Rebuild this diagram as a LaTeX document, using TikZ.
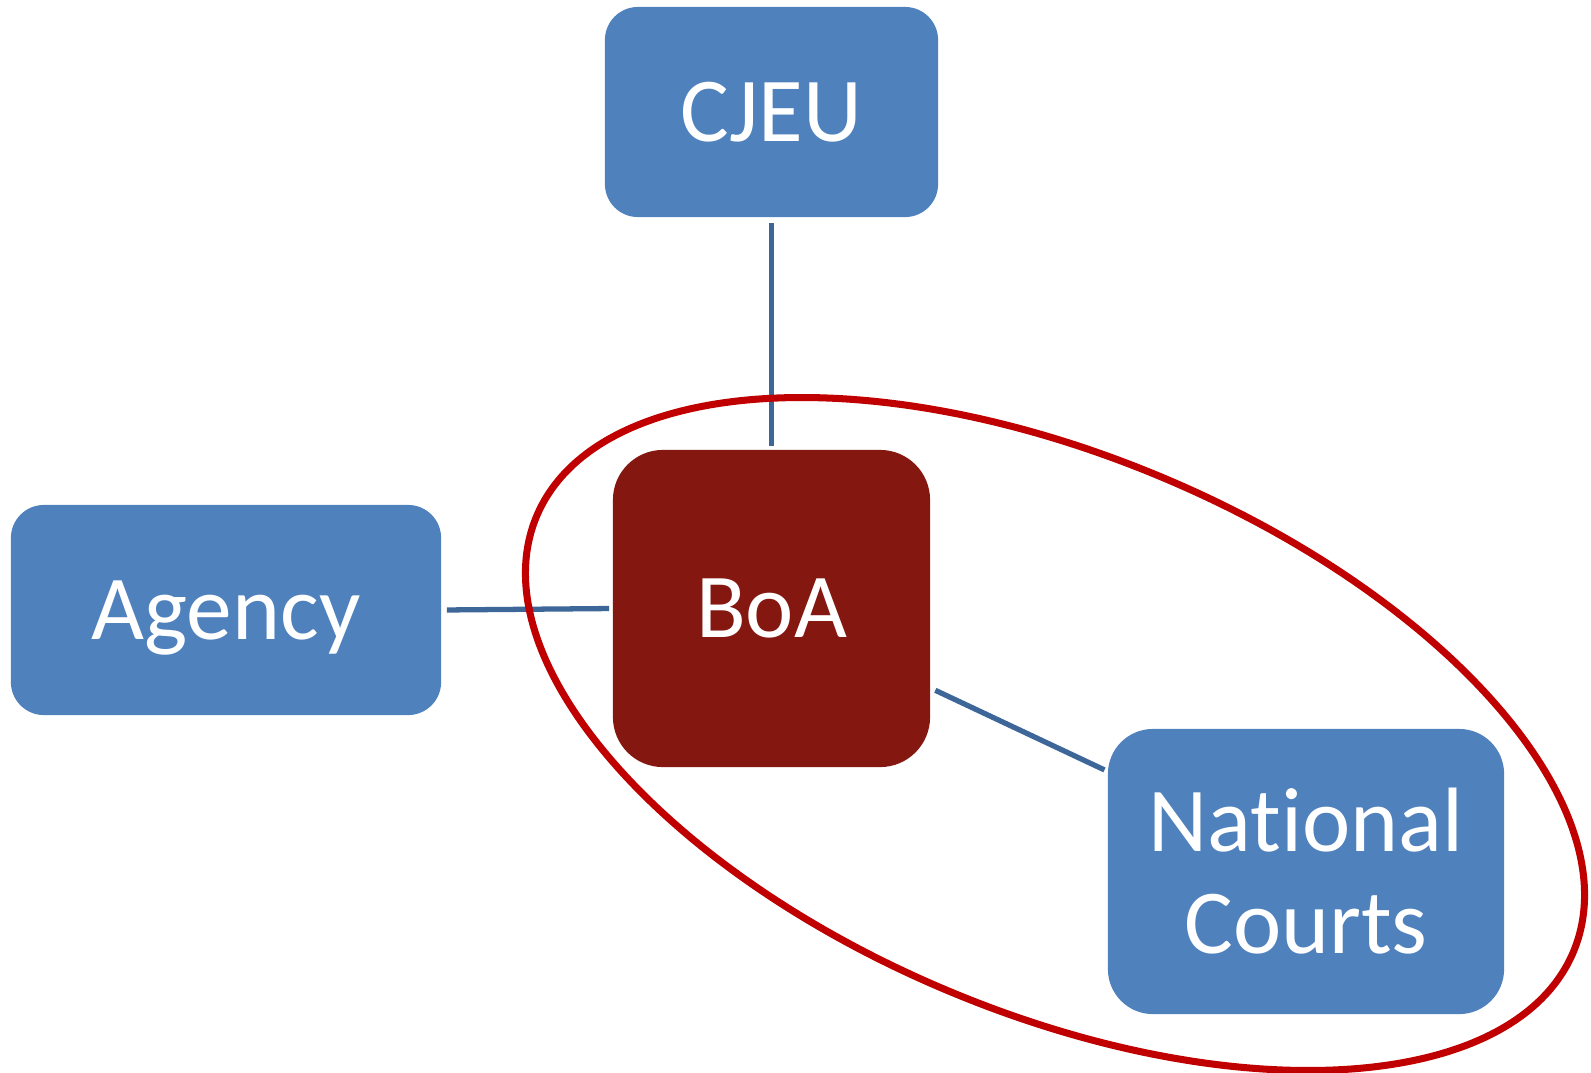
\documentclass[tikz,border=0pt]{standalone}
\usepackage{fontspec}
\setmainfont[Ligatures=NoCommon]{Carlito}
\usetikzlibrary{calc}
\definecolor{boxblue}{HTML}{4F81BD}
\definecolor{boared}{HTML}{841710}
\definecolor{linkblue}{HTML}{3D6699}
\definecolor{ovalred}{HTML}{C00000}
\tikzset{
  box/.style={fill=boxblue, text=white, inner sep=0pt, align=center,
    font=\fontsize{26}{29}\selectfont},
  link/.style={draw=linkblue, line width=1.5pt, shorten <=0.05cm, shorten >=0.03cm}
}
\begin{document}
\begin{tikzpicture}[x=0.01cm,y=-0.01cm]
\useasboundingbox (0,0) rectangle (1591,1072);
%блоки
\node[box, rounded corners=0.33cm, minimum width=3.33cm, minimum height=2.10cm] (cjeu) at (771.5,112) {CJEU};
\node[box, fill=boared, rounded corners=0.5cm, minimum width=3.17cm, minimum height=3.17cm] (boa) at (771.5,608.5) {BoA};
\node[box, text depth=0pt, rounded corners=0.33cm, minimum width=4.30cm, minimum height=2.10cm] (agency) at (226,610) {Agency};
\node[box, rounded corners=0.45cm, minimum width=3.96cm, minimum height=2.85cm] (nc) at (1306,871.5) {National\\Courts};
%связи
\draw[link] (cjeu.south) -- (boa.north);
\draw[link] (agency.east) -- (boa.west);
\draw[link] ($(boa.north east)!0.75!(boa.south east)$) -- ($(nc.north west)!0.15!(nc.south west)$);
%овал
\draw[ovalred, line width=2pt, rotate around={-22.8:(1055,734)}] (1055,734) ellipse [x radius=5.62cm, y radius=2.78cm];
\end{tikzpicture}
\end{document}
